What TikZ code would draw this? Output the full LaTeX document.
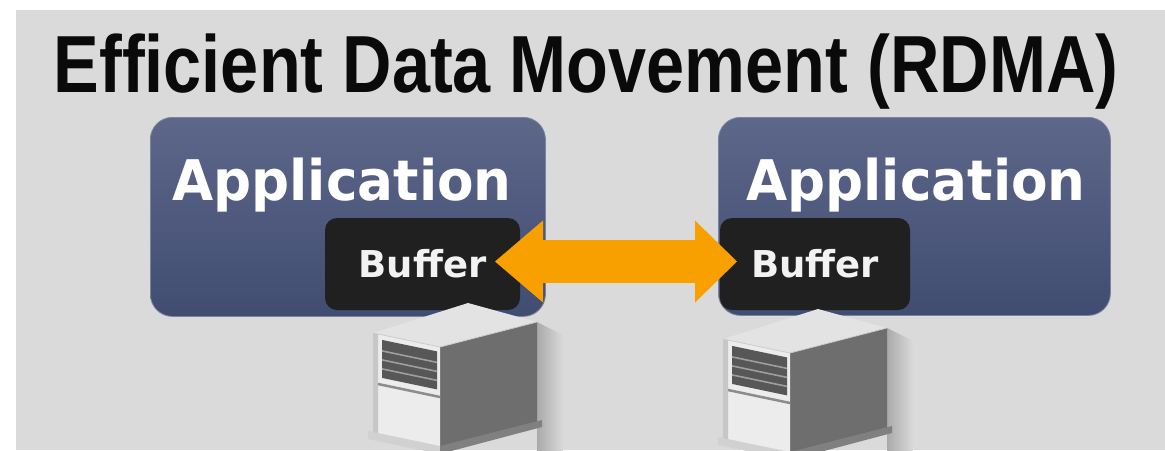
\documentclass[tikz,border=0pt]{standalone}
\usepackage{fontspec}
\usepackage{graphicx}
\usetikzlibrary{arrows.meta}
\newfontfamily\titlefont{Liberation Sans}
\newfontfamily\boxfont{DejaVu Sans}
\definecolor{bgGray}{HTML}{DADADA}
\definecolor{appTop}{HTML}{5C678A}
\definecolor{appBot}{HTML}{414C71}
\definecolor{appEdge}{HTML}{7A83A0}
\definecolor{bufFill}{HTML}{202020}
\definecolor{rdmaOrange}{HTML}{F8A000}
\definecolor{srvTopC}{HTML}{E3E3E3}
\definecolor{srvFrontC}{HTML}{ECECEC}
\definecolor{srvSideC}{HTML}{6E6E6E}
\definecolor{srvVentC}{HTML}{575757}
\definecolor{titleC}{HTML}{0A0A0A}
\tikzset{
  titletext/.style={anchor=base, inner sep=0pt, text=titleC,
    font=\titlefont\bfseries\fontsize{81}{86}\selectfont},
  appbox/.style={anchor=north west, rounded corners=22pt, inner sep=0pt,
    top color=appTop, bottom color=appBot, draw=appEdge, line width=0.8pt},
  apptext/.style={anchor=base, inner sep=0pt, text=white,
    font=\boxfont\bfseries\fontsize{56}{60}\selectfont},
  bufbox/.style={rounded corners=12pt, fill=bufFill, inner sep=0pt,
    minimum height=92pt, text=white!95!black,
    font=\boxfont\bfseries\fontsize{37}{40}\selectfont},
  rdma/.style={draw=rdmaOrange, line width=43pt,
    {Triangle[length=48pt,width=82pt,line width=0pt]}-{Triangle[length=42pt,width=82pt,line width=0pt]}},
  srvtop/.style={fill=srvTopC},
  srvfront/.style={fill=srvFrontC},
  srvside/.style={fill=srvSideC},
  srvvent/.style={fill=srvVentC},
  pics/server/.style={code={
    \shade[left color=black!22!bgGray, right color=bgGray] (164,-11) -- (190,2) -- (190,130) -- (164,130) -- cycle;
    \fill[srvtop] (0,0) -- (95,-30) -- (164,-11) -- (67,14) -- cycle;
    \fill[srvside] (67,14) -- (164,-11) -- (164,92) -- (67,119) -- cycle;
    \fill[srvfront] (0,0) -- (67,14) -- (67,119) -- (0,105) -- cycle;
    \fill[black!22] (0,0) -- (5,1) -- (5,106) -- (0,105) -- cycle;
    \fill[srvvent] (9,6.9) -- (64,18.4) -- (64,56.4) -- (9,44.9) -- cycle;
    \foreach \k in {16,25,34}
      \draw[black!38, line width=1.6pt] (9,\k+1.9) -- (64,\k+13.4);
    \draw[black!45, line width=2.5pt] (5,51) -- (67,64);
    \fill[black!18] (-5,98) -- (67,113) -- (67,121) -- (-5,106) -- cycle;
    \fill[black!50] (67,113) -- (169,87) -- (169,94) -- (67,121) -- cycle;
    \draw[white!80!black, line width=0.8pt] (0,0) -- (67,14) -- (164,-11);
  }}
}
\begin{document}
\begin{tikzpicture}[x=1pt,y=-1pt]
\useasboundingbox (0,0) rectangle (1165,450);
\clip (0,0) rectangle (1165,450);
\fill[white] (0,0) rectangle (1165,450);
\fill[bgGray] (16,10) rectangle (1165,450);

\node[titletext] (title) at (586,92) {\scalebox{0.845}[1]{Efficient Data Movement (RDMA)}};

\node[appbox, minimum width=395pt, minimum height=199pt] (lapp) at (150,117) {};
\node[appbox, minimum width=392pt, minimum height=198pt] (rapp) at (718,117) {};

\node[apptext] (lapptxt) at (342,200) {\scalebox{0.95}[1]{Application}};
\node[apptext] (rapptxt) at (916,200) {\scalebox{0.95}[1]{Application}};

\node[bufbox, minimum width=195pt] (lbuf) at (422.5,264) {Buffer};
\node[bufbox, minimum width=190pt] (rbuf) at (815,264) {Buffer};

\pic (lsrv) at (373,333) {server};
\pic (rsrv) at (723,339) {server};

\coordinate (ltip) at (495,261.5);
\coordinate (rtip) at (737,261.5);
\draw[rdma] (ltip) -- (rtip);
\end{tikzpicture}
\end{document}
